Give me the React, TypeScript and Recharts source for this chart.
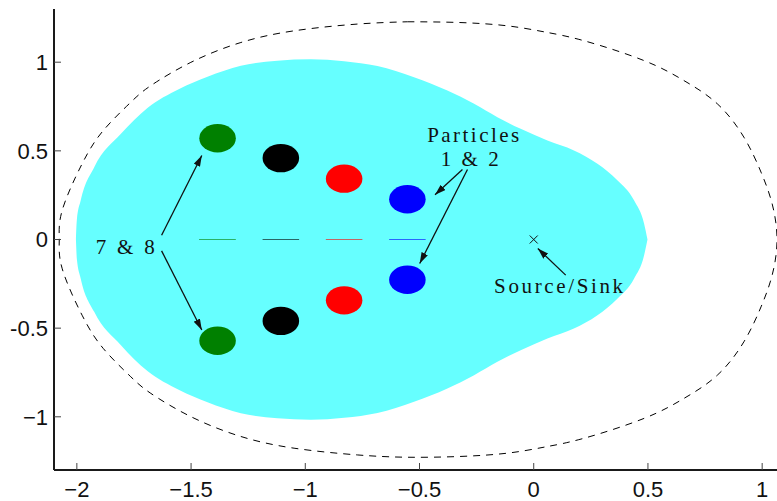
import { ComposedChart, XAxis, YAxis, Area, Line, Scatter, ReferenceLine } from 'recharts';

// axis ticks
const X_TICKS = [-2, -1.5, -1, -0.5, 0, 0.5, 1];
const Y_TICKS = [-1, -0.5, 0, 0.5, 1];
const X_MIN = -2.1;
const X_MAX = 1.1;
const Y_MIN = -1.3;
const Y_MAX = 1.3;

// cyan region, upper boundary (mirrored about y = 0)
const regionX = [-2.004, -2.0, -1.983, -1.924, -1.807, -1.691, -1.552, -1.428, -1.282, -1.122, -0.976, -0.83, -0.684,
  -0.524, -0.378, -0.261, -0.159, -0.057, 0.06, 0.176, 0.279, 0.366, 0.439, 0.483, 0.498];
const regionHalf = [0, 0.11, 0.221, 0.408, 0.596, 0.742, 0.849, 0.918, 0.98, 1.008, 1.016, 1.005, 0.978,
  0.915, 0.84, 0.765, 0.69, 0.624, 0.558, 0.502, 0.427, 0.334, 0.221, 0.09, 0];

// dashed outer curve, upper half (mirrored)
const ellipseX = [-2.077, -2.064, -1.977, -1.884, -1.764, -1.676, -1.501, -1.282, -1.049, -0.772, -0.553, -0.33,
  -0.115, 0.05, 0.22, 0.483, 0.658, 0.804, 0.92, 0.995, 1.044, 1.065];
const ellipseY = [0, 0.165, 0.427, 0.615, 0.774, 0.868, 0.999, 1.111, 1.177, 1.215, 1.228, 1.224,
  1.205, 1.17, 1.121, 1.009, 0.896, 0.765, 0.577, 0.38, 0.2, 0];

// particle centres, upper row (lower row mirrored)
const particleX = [-1.384, -1.107, -0.83, -0.553];
const particleY = [0.571, 0.459, 0.343, 0.227];
const PARTICLE_R = 0.08;

// faint streaks on the axis
const streakStart = [-1.465, -1.187, -0.91, -0.633];
const streakEnd = [-1.304, -1.027, -0.75, -0.473];

// source / sink
const sourceX = [0];
const sourceY = [0];

// annotations (first-line baseline centre)
const labelLines = [['Particles', '1 & 2'], ['Source/Sink'], ['7 & 8']];
const labelX = [-0.265, 0.109, -1.788];
const labelY = [0.548, -0.3, -0.079];

const arrowFromX = [-0.312, -0.29, 0.14, -1.629, -1.629];
const arrowFromY = [0.395, 0.395, -0.201, 0.024, -0.064];
const arrowToX = [-0.432, -0.499, 0.018, -1.453, -1.453];
const arrowToY = [0.252, -0.135, -0.051, 0.474, -0.51];

// styles
const PARTICLE_COLORS = ['#008000', '#000000', '#ff0000', '#0000ff'];
const LABEL_WIDTH = [[92, 58], [129], [59]];
const LINE_SHIFT = [[0, -3.5], [0], [0]];
const LINE_GAP = 23.5;
const CHART_W = 800;
const CHART_H = 501;
const MARGIN = { top: 9, right: 15, bottom: 0, left: 0 };
const YAXIS_W = 54;
const XAXIS_H = 31;
const PX_X = (CHART_W - YAXIS_W - MARGIN.right) / (X_MAX - X_MIN);
const PX_Y = (CHART_H - MARGIN.top - XAXIS_H) / (Y_MAX - Y_MIN);

const regionData = regionX.map((x, i) => ({ x, r: [-regionHalf[i], regionHalf[i]] }));
const upper = ellipseX.map((x, i) => ({ x, y: ellipseY[i] }));
const loop = [...upper, ...upper.slice(1, -1).reverse().map(p => ({ x: p.x, y: -p.y }))];
// start the closed curve at the flat top so the seam is not visible
const ellipseData = [...loop.slice(10), ...loop.slice(0, 11)];
const labelData = labelLines.map((lines, i) => ({ x: labelX[i], y: labelY[i], lines, i }));

const fmt = (v: number) => (v < 0 ? '\u2212' + Math.abs(v) : String(v));
const fmtY = (v: number) => (v === -0.5 ? '-0.5' : fmt(v));

const tickFont = { fontFamily: 'Liberation Sans, Arial, sans-serif', fontSize: 22, fill: '#111' };

export default function App() {
  return (
    <div style={{ position: 'fixed', left: 0, top: 0, width: 777, height: 501, overflow: 'hidden', background: '#fff' }}>
      <ComposedChart width={CHART_W} height={CHART_H} margin={MARGIN}>
        <defs>
          <marker id="arrowHead" markerUnits="userSpaceOnUse" markerWidth="12" markerHeight="8" refX="11" refY="3.5" orient="auto">
            <path d="M0,0 L11,3.5 L0,7 z" fill="#111" />
          </marker>
        </defs>
        <XAxis
          type="number"
          dataKey="x"
          domain={[X_MIN, X_MAX]}
          allowDataOverflow
          ticks={X_TICKS}
          interval={0}
          tickFormatter={fmt}
          height={XAXIS_H}
          tickSize={-7}
          tickMargin={18}
          tick={tickFont}
          axisLine={{ stroke: '#1a1a1a', strokeWidth: 2 }}
          tickLine={{ stroke: '#444', strokeWidth: 1 }}
        />
        <XAxis
          xAxisId="top"
          orientation="top"
          type="number"
          dataKey="x"
          domain={[X_MIN, X_MAX]}
          allowDataOverflow
          ticks={X_TICKS}
          interval={0}
          height={0}
          tickSize={-7}
          tick={false}
          axisLine={{ stroke: '#1a1a1a', strokeWidth: 2 }}
          tickLine={{ stroke: '#444', strokeWidth: 1 }}
        />
        <YAxis
          type="number"
          dataKey="y"
          domain={[Y_MIN, Y_MAX]}
          allowDataOverflow
          ticks={Y_TICKS}
          interval={0}
          tickFormatter={fmtY}
          width={YAXIS_W}
          tickSize={-7}
          tickMargin={13}
          tick={tickFont}
          axisLine={{ stroke: '#1a1a1a', strokeWidth: 2 }}
          tickLine={{ stroke: '#444', strokeWidth: 1 }}
        />

        <Area
          data={regionData}
          dataKey="r"
          type="monotone"
          fill="#66ffff"
          fillOpacity={1}
          stroke="none"
          isAnimationActive={false}
        />

        {streakStart.map((s, i) => (
          <ReferenceLine
            key={'streak' + i}
            segment={[{ x: s, y: 0 }, { x: streakEnd[i], y: 0 }]}
            stroke={PARTICLE_COLORS[i]}
            strokeOpacity={0.6}
            strokeWidth={1}
          />
        ))}

        {particleX.map((px, i) => (
          <Scatter
            key={'p' + i}
            data={[{ x: px, y: particleY[i] }, { x: px, y: -particleY[i] }]}
            isAnimationActive={false}
            shape={(props: any) => (
              <ellipse cx={props.cx} cy={props.cy} rx={PARTICLE_R * PX_X} ry={PARTICLE_R * PX_Y} fill={PARTICLE_COLORS[i]} />
            )}
          />
        ))}

        <Line
          data={ellipseData}
          dataKey="y"
          type="natural"
          stroke="#000"
          strokeWidth={1}
          strokeDasharray="7 6"
          dot={false}
          activeDot={false}
          isAnimationActive={false}
        />

        <Scatter
          data={sourceX.map((x, i) => ({ x, y: sourceY[i] }))}
          isAnimationActive={false}
          shape={(props: any) => (
            <g stroke="#111" strokeWidth={1}>
              <line x1={props.cx - 4} y1={props.cy - 4} x2={props.cx + 4} y2={props.cy + 4} />
              <line x1={props.cx - 4} y1={props.cy + 4} x2={props.cx + 4} y2={props.cy - 4} />
            </g>
          )}
        />

        {arrowFromX.map((x, i) => (
          <ReferenceLine
            key={'a' + i}
            segment={[{ x, y: arrowFromY[i] }, { x: arrowToX[i], y: arrowToY[i] }]}
            stroke="#111"
            strokeWidth={1.3}
            markerEnd="url(#arrowHead)"
          />
        ))}

        <Scatter
          data={labelData}
          isAnimationActive={false}
          shape={(props: any) => {
            const k = props.payload.i;
            return (
              <text
                textAnchor="middle"
                fontFamily="Liberation Serif, Times New Roman, serif"
                fontSize={21}
                fill="#111"
              >
                {props.payload.lines.map((line: string, j: number) => (
                  <tspan
                    key={j}
                    x={props.cx + LINE_SHIFT[k][j]}
                    y={props.cy + j * LINE_GAP}
                    textLength={LABEL_WIDTH[k][j]}
                    lengthAdjust="spacing"
                  >
                    {line}
                  </tspan>
                ))}
              </text>
            );
          }}
        />
      </ComposedChart>
    </div>
  );
}
